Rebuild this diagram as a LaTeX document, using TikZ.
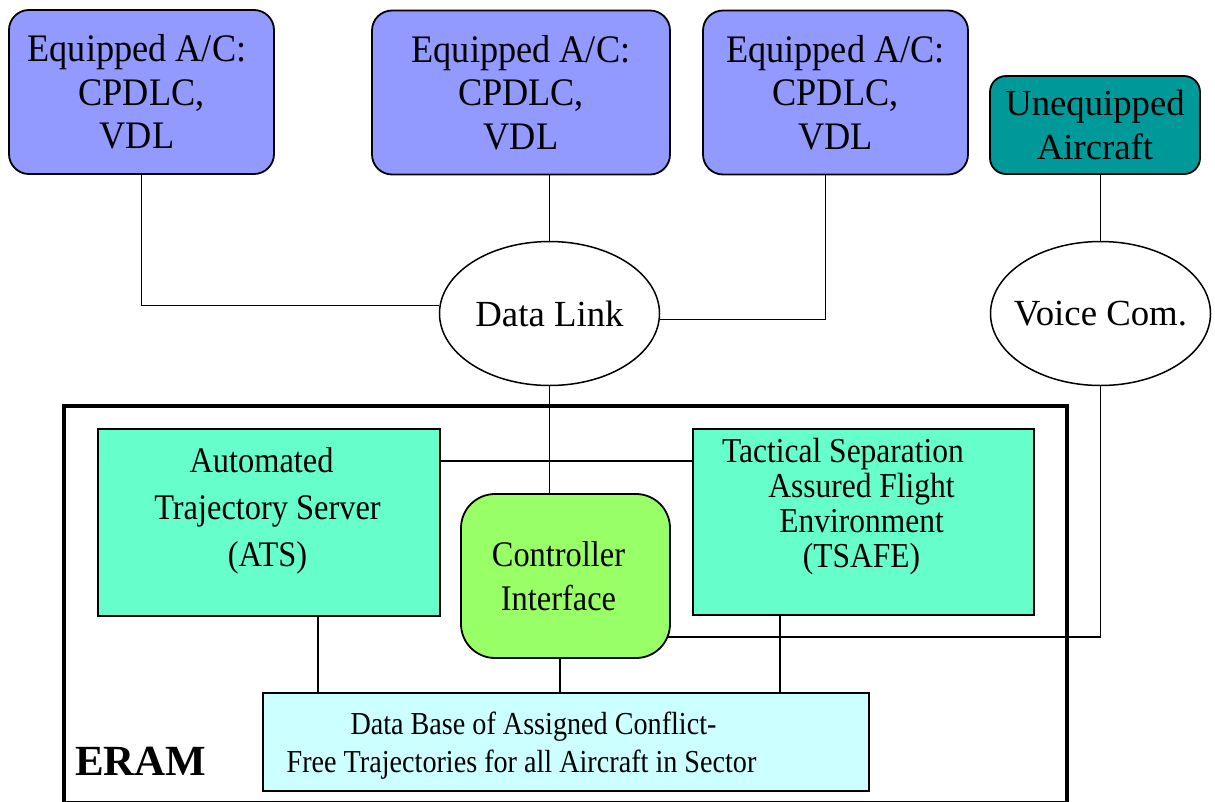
\documentclass[tikz,border=0pt]{standalone}
\usepackage{fontspec}
\setmainfont{Liberation Serif}
\newfontfamily\condA{Liberation Serif}[FakeStretch=0.9]
\newfontfamily\condB{Liberation Serif}[FakeStretch=0.88]
\newfontfamily\condE{Liberation Serif}[FakeStretch=0.93]
\usetikzlibrary{shapes.geometric}
\pgfdeclarelayer{background}
\pgfsetlayers{background,main}
\definecolor{eqblue}{RGB}{146,153,255}
\definecolor{tealbox}{RGB}{0,153,153}
\definecolor{mint}{RGB}{102,255,204}
\definecolor{limebox}{RGB}{153,255,102}
\definecolor{palecyan}{RGB}{204,255,255}
\begin{document}
\begin{tikzpicture}[x=1pt,y=-1pt,
  conn/.style={line width=1.3pt, draw=black},
  eqbox/.style={draw, line width=1.8pt, fill=eqblue, rounded corners=20pt,
    minimum height=164pt, align=center, inner sep=0pt,
    font=\condE\fontsize{39}{43.5}\selectfont},
  ueqbox/.style={draw, line width=1.8pt, fill=tealbox, rounded corners=16pt,
    minimum width=210pt, minimum height=98pt, align=center, inner sep=0pt,
    font=\fontsize{36.7}{44}\selectfont},
  oval/.style={ellipse, draw, line width=1.5pt, fill=white, inner sep=0pt, inner xsep=-14pt,
    minimum width=220pt, minimum height=144pt, font=\fontsize{36.8}{40}\selectfont},
  innerbox/.style={draw, line width=1.8pt, inner sep=0pt},
  txtA/.style={align=center, inner sep=0pt, font=\condA\fontsize{36}{47}\selectfont},
  txtT/.style={align=center, inner sep=0pt, font=\condA\fontsize{35}{35}\selectfont},
  txtC/.style={align=center, inner sep=0pt, font=\condA\fontsize{36}{44}\selectfont},
  txtD/.style={align=center, inner sep=0pt, font=\condB\fontsize{32}{38}\selectfont},
  eramframe/.style={draw, line width=3.5pt, inner sep=0pt}
]
\useasboundingbox (0,0) rectangle (1215,801);

% top row
\node[eqbox, minimum width=265pt] (eq1) at (141.5,92) {Equipped A/C:\hspace*{9pt}\\CPDLC,\hspace*{9pt}\\VDL\hspace*{9pt}};
\node[eqbox, minimum width=298pt] (eq2) at (521,92.5) {Equipped A/C:\\CPDLC,\\VDL};
\node[eqbox, minimum width=265pt] (eq3) at (835.5,92.5) {Equipped A/C:\\CPDLC,\\VDL};
\node[ueqbox] (ueq) at (1095,125) {Unequipped\\Aircraft};

% links
\node[oval] (dl) at (549.5,313.5) {Data Link};
\node[oval] (vc) at (1100.5,313.5) {Voice Com.};

% ERAM frame
\node[eramframe, minimum width=1003pt, minimum height=397pt] (eram) at (565.5,604.5) {};
\node[anchor=base west, inner sep=0pt, font=\fontsize{43}{43}\selectfont\bfseries] (eramlbl) at (75,775) {ERAM};

% inner boxes
\node[innerbox, fill=mint, minimum width=342pt, minimum height=187pt,
  label={[txtA, xshift=-1.5pt, yshift=11.6pt]center:{Automated\hspace*{12pt}\\Trajectory Server\hspace*{25pt}\\(ATS)}}]
  (ats) at (269,522.5) {};
\node[innerbox, fill=mint, minimum width=341pt, minimum height=186pt,
  label={[txtT, xshift=-2pt, yshift=15.5pt]center:{Tactical Separation\hspace*{37pt}\\Assured Flight\hspace*{20pt}\\Environment\hspace*{15pt}\\(TSAFE)}}]
  (ts) at (863.5,522) {};
\node[innerbox, fill=limebox, rounded corners=34pt, minimum width=209pt, minimum height=164pt,
  label={[txtC, xshift=-7pt]center:{Controller\\Interface}}]
  (ci) at (565.5,576) {};
\node[innerbox, fill=palecyan, minimum width=606pt, minimum height=98pt,
  label={[txtD, xshift=-44.5pt, yshift=-3.5pt]center:{\hspace*{24pt}Data Base of Assigned Conflict-\\Free Trajectories for all Aircraft in Sector}}]
  (db) at (566,742) {};

\coordinate (hl) at (0,461);
\coordinate (vcj) at (1100.5,637);

\begin{pgfonlayer}{background}
\draw[conn] (eq1.south) |- (dl.176.6);
\draw[conn] (eq2.south -| dl.north) -- (dl.north);
\draw[conn] ([xshift=-10pt]eq3.south) |- (dl.357.5);
\draw[conn] (vc.north) -- (vc.north |- ueq.south);
\draw[conn] (dl.south) -- (dl.south |- ci.north);
\draw[conn] (ats.east |- hl) -- (ts.west |- hl);
\draw[conn] (vc.south) -- (vcj) -- ([xshift=-8pt]vcj -| ci.east);
\draw[conn] ([xshift=49pt]ats.south) -- ([xshift=49pt]ats.south |- db.north);
\draw[conn] ([xshift=-5.5pt]ci.south) -- ([xshift=-5.5pt]ci.south |- db.north);
\draw[conn] ([xshift=-83.5pt]ts.south) -- ([xshift=-83.5pt]ts.south |- db.north);
\end{pgfonlayer}
\end{tikzpicture}
\end{document}
